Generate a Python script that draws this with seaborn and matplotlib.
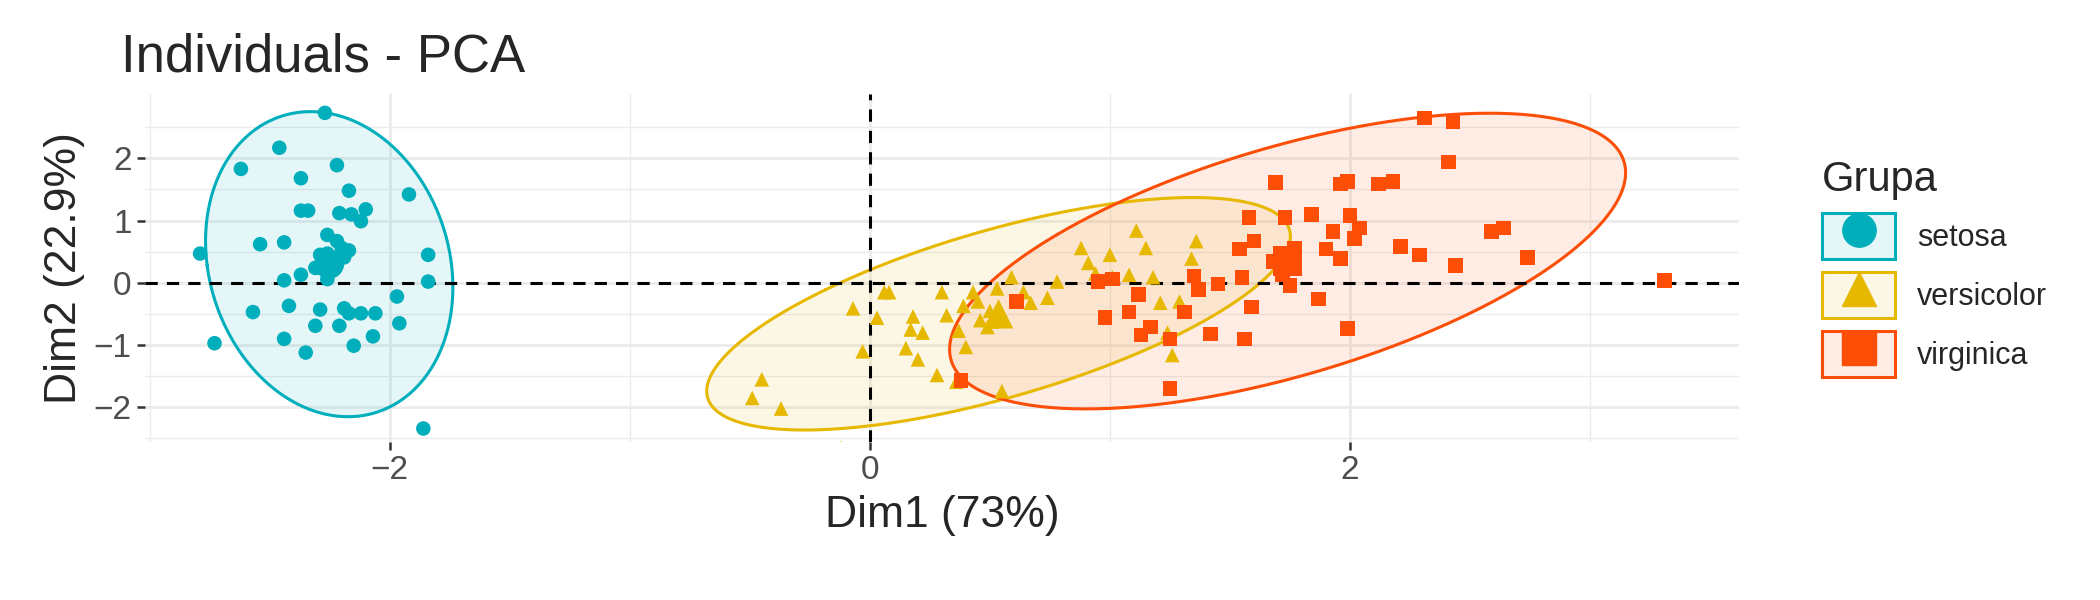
import numpy as np
import pandas as pd
import seaborn as sns
import matplotlib
matplotlib.use("Agg")
import matplotlib.pyplot as plt
from matplotlib.patches import Patch
from matplotlib.lines import Line2D

GROUPS = ["setosa", "versicolor", "virginica"]
COLORS = {"setosa": "#00AFBB", "versicolor": "#E7B800", "virginica": "#FC4E07"}
MARKERS = {"setosa": "o", "versicolor": "^", "virginica": "s"}

setosa_dim1 = [-2.79, -2.73, -2.62, -2.46, -2.27, -2.37, -2.22, -2.37, -2.34, -2.54,
               -2.44, -2.17, -2.21, -2.22, -2.12, -2.16, -2.10, -1.92, -1.84, -1.84,
               -1.97, -2.57, -2.44, -2.26, -2.29, -2.42, -2.44, -2.35, -2.31, -2.21,
               -2.17, -2.12, -2.19, -2.06, -1.96, -2.07, -2.15, -1.86, -2.26, -2.23,
               -2.29, -2.29, -2.25, -2.22, -2.20, -2.17, -2.19, -2.26, -2.31, -2.37]
setosa_dim2 = [0.47, -0.97, 1.83, 2.17, 2.73, 1.68, 1.89, 1.16, 1.16, 0.62,
               0.65, 1.48, 1.12, 0.67, 0.99, 1.10, 1.18, 1.42, 0.45, 0.02,
               -0.22, -0.47, 0.04, 0.06, -0.43, -0.37, -0.90, -1.12, -0.69, -0.69,
               -0.49, -0.49, -0.41, -0.49, -0.65, -0.86, -1.01, -2.34, 0.47, 0.39,
               0.45, 0.24, 0.22, 0.30, 0.56, 0.52, 0.41, 0.77, 0.24, 0.13]

versicolor_dim1 = [-0.45, -0.49, -0.37, -0.12, -0.07, -0.03, 0.03, 0.06, 0.08, 0.18,
                   0.15, 0.17, 0.22, 0.20, 0.28, 0.30, 0.32, 0.39, 0.37, 0.40,
                   0.45, 0.46, 0.50, 0.51, 0.53, 0.49, 0.53, 0.59, 0.64, 0.67,
                   0.55, 0.36, 0.43, 0.74, 0.78, 0.88, 0.91, 0.94, 1.00, 1.01,
                   1.08, 1.11, 1.15, 1.18, 1.21, 1.24, 1.26, 1.29, 1.34, 1.36]
versicolor_dim2 = [-1.55, -1.85, -2.02, -2.65, -0.41, -1.10, -0.56, -0.15, -0.15, -0.54,
                   -1.05, -0.75, -0.80, -1.23, -1.48, -0.15, -0.52, -0.37, -0.77, -1.03,
                   -0.30, -0.60, -0.45, -0.62, -0.54, -0.71, -0.09, 0.09, -0.15, -0.32,
                   -1.74, -1.59, -0.15, -0.24, 0.02, 0.56, 0.32, 0.15, 0.45, 0.09,
                   0.13, 0.84, 0.56, 0.09, -0.32, -0.80, -1.16, -0.30, 0.39, 0.67]

virginica_dim1 = [2.31, 2.43, 2.41, 2.18, 2.12, 1.99, 1.96, 2.00, 2.04, 2.02,
                  1.93, 1.84, 1.73, 1.69, 1.58, 1.60, 1.54, 1.55, 1.45, 1.37,
                  1.31, 1.35, 1.12, 1.17, 1.13, 1.25, 1.25, 1.08, 0.98, 0.95,
                  1.01, 1.42, 1.59, 1.68, 1.72, 1.74, 1.77, 1.75, 1.87, 1.90,
                  1.96, 1.99, 2.21, 2.29, 2.44, 2.59, 2.64, 2.74, 3.31, 0.38,
                  0.61, 1.56]
virginica_dim2 = [2.65, 2.58, 1.94, 1.63, 1.59, 1.63, 1.59, 1.08, 0.88, 0.71,
                  0.82, 1.10, 1.05, 1.61, 1.05, 0.67, 0.54, 0.09, -0.02, -0.11,
                  -0.47, 0.11, -0.19, -0.71, -0.84, -0.90, -1.70, -0.47, -0.56, 0.02,
                  0.06, -0.82, -0.39, 0.34, 0.13, 0.34, 0.56, -0.04, -0.26, 0.54,
                  0.39, -0.73, 0.58, 0.45, 0.28, 0.82, 0.88, 0.41, 0.04, -1.57,
                  -0.30, -0.90]

df = pd.concat([
    pd.DataFrame({"Dim1": setosa_dim1, "Dim2": setosa_dim2, "Grupa": "setosa"}),
    pd.DataFrame({"Dim1": versicolor_dim1, "Dim2": versicolor_dim2, "Grupa": "versicolor"}),
    pd.DataFrame({"Dim1": virginica_dim1, "Dim2": virginica_dim2, "Grupa": "virginica"}),
], ignore_index=True)

sns.set_theme(style="white")
plt.rcParams["font.family"] = ["Liberation Sans", "DejaVu Sans"]

fig = plt.figure(figsize=(21, 6), dpi=100)
ax = fig.add_axes([0.069, 0.263, 0.759, 0.58])

# normal-data ellipses (95%)
F95 = 3.19
t = np.linspace(0, 2 * np.pi, 300)
for g in GROUPS:
    sub = df[df["Grupa"] == g][["Dim1", "Dim2"]].to_numpy()
    mu = sub.mean(axis=0)
    cov = np.cov(sub.T)
    vals, vecs = np.linalg.eigh(cov)
    r = np.sqrt(2 * F95)
    circ = np.vstack([np.cos(t), np.sin(t)])
    pts = (vecs @ (np.sqrt(vals)[:, None] * circ)) * r + mu[:, None]
    ax.fill(pts[0], pts[1], color=COLORS[g], alpha=0.1, lw=0, zorder=2)
    ax.plot(pts[0], pts[1], color=COLORS[g], lw=2.2, zorder=3)

sns.scatterplot(data=df, x="Dim1", y="Dim2", hue="Grupa", style="Grupa",
                palette=COLORS, markers=MARKERS, s=110, edgecolor="none",
                legend=False, ax=ax, zorder=4)
means = df.groupby("Grupa")[["Dim1", "Dim2"]].mean().reset_index()
sns.scatterplot(data=means, x="Dim1", y="Dim2", hue="Grupa", style="Grupa",
                palette=COLORS, markers=MARKERS, s=450, edgecolor="none",
                legend=False, ax=ax, zorder=5)

ax.axhline(0, color="black", ls=(0, (4, 3)), lw=2.2, zorder=3.5)
ax.axvline(0, color="black", ls=(0, (4, 3)), lw=2.2, zorder=3.5)

ax.set_xlim(-3.02, 3.62)
ax.set_ylim(-2.56, 3.03)
ax.set_xticks([-2, 0, 2])
ax.set_yticks([-2, -1, 0, 1, 2])
ax.set_xticks([-3, -1, 1, 3], minor=True)
ax.set_yticks([-2.5, -1.5, -0.5, 0.5, 1.5, 2.5], minor=True)
ax.grid(True, which="major", color="#EBEBEB", lw=2)
ax.grid(True, which="minor", color="#EBEBEB", lw=1)
ax.set_axisbelow(True)
for s in ax.spines.values():
    s.set_visible(False)
ax.tick_params(axis="both", which="major", labelsize=24, labelcolor="#4D4D4D",
               length=6, width=1.8, color="#333333", left=True, bottom=True)
ax.tick_params(which="minor", length=0)
ax.set_xlabel("Dim1 (73%)", fontsize=32, labelpad=6)
ax.set_ylabel("Dim2 (22.9%)", fontsize=32, labelpad=6)
ax.set_title("Individuals - PCA", fontsize=38, loc="left", pad=16, x=-0.015)

handles = []
for g in GROUPS:
    handles.append((Patch(facecolor=COLORS[g], alpha=0.1, edgecolor="none"),
                    Patch(facecolor="none", edgecolor=COLORS[g], lw=2.2),
                    Line2D([], [], marker=MARKERS[g], color=COLORS[g], ls="none", markersize=24)))
leg = ax.legend(handles, GROUPS, title="Grupa", loc="center left", bbox_to_anchor=(1.035, 0.5),
                frameon=False, fontsize=22, title_fontsize=30, handlelength=2.4,
                handleheight=1.9, labelspacing=0.45, handletextpad=0.7, alignment="left")

fig.savefig("out.png", dpi=100)
